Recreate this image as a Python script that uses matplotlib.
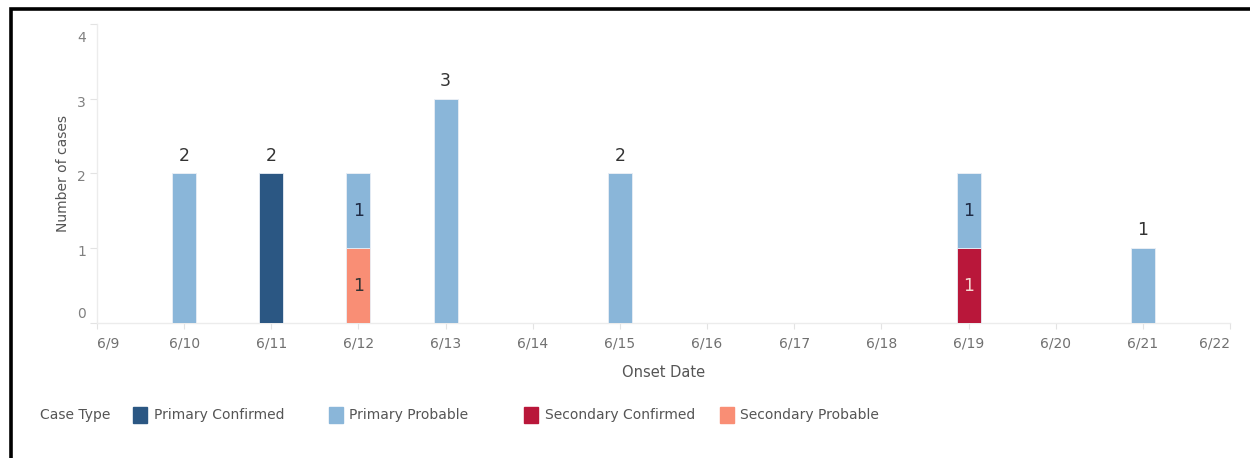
import matplotlib
matplotlib.use("Agg")
import matplotlib.pyplot as plt
from matplotlib.patches import Rectangle
from matplotlib.transforms import ScaledTranslation
import numpy as np

# axis dates shown on the x axis
date_ticks = ["6/9", "6/10", "6/11", "6/12", "6/13", "6/14", "6/15",
              "6/16", "6/17", "6/18", "6/19", "6/20", "6/21", "6/22"]

# cases per onset date, one list per case type (stack order bottom -> top)
onset_dates = ["6/10", "6/11", "6/12", "6/13", "6/15", "6/19", "6/21"]
secondary_confirmed = [0, 0, 0, 0, 0, 1, 0]
secondary_probable = [0, 0, 1, 0, 0, 0, 0]
primary_probable = [2, 0, 1, 3, 2, 1, 1]
primary_confirmed = [0, 2, 0, 0, 0, 0, 0]

legend_order = ["Primary Confirmed", "Primary Probable",
                "Secondary Confirmed", "Secondary Probable"]
colors = {"Primary Confirmed": "#2b5783",
          "Primary Probable": "#8ab6d9",
          "Secondary Confirmed": "#b9173a",
          "Secondary Probable": "#f98e75"}
label_colors = {"Primary Confirmed": "#333333",
                "Primary Probable": "#1e2a44",
                "Secondary Confirmed": "#f6d9d2",
                "Secondary Probable": "#333333"}

series = [("Secondary Confirmed", secondary_confirmed),
          ("Secondary Probable", secondary_probable),
          ("Primary Probable", primary_probable),
          ("Primary Confirmed", primary_confirmed)]

plt.rcParams["font.family"] = ["DejaVu Sans"]

fig = plt.figure(figsize=(12.5, 4.58), dpi=100, facecolor="white")
ax = fig.add_axes([0.0776, 0.2948, 0.9064, 0.6528])

x = np.array([date_ticks.index(d) for d in onset_dates], dtype=float)
bottom = np.zeros(len(x))
totals = np.sum([s[1] for s in series], axis=0)
nseg = np.sum([np.array(s[1]) > 0 for s in series], axis=0)

for name, vals in series:
    vals = np.array(vals, dtype=float)
    ax.bar(x, vals, width=0.275, bottom=bottom, color=colors[name],
           edgecolor="#e8eef5", linewidth=0.6, zorder=3)
    for xi, b, v, n in zip(x, bottom, vals, nseg):
        if v > 0 and n > 1:
            ax.text(xi, b + v / 2, "%d" % v, ha="center", va="center",
                    fontsize=12.5, color=label_colors[name], zorder=4)
    bottom += vals

for xi, t, n in zip(x, totals, nseg):
    if n == 1:
        ax.text(xi, t + 0.12, "%d" % t, ha="center", va="bottom",
                fontsize=12.5, color="#333333", zorder=4)

ax.set_xlim(0, len(date_ticks) - 1)
ax.set_ylim(0, 4)
ax.set_xticks(range(len(date_ticks)))
ax.set_xticklabels(date_ticks)
ax.set_yticks([0, 1, 2, 3, 4])

for sp in ["top", "right"]:
    ax.spines[sp].set_visible(False)
for sp in ["left", "bottom"]:
    ax.spines[sp].set_color("#ececec")
    ax.spines[sp].set_linewidth(1)

ax.tick_params(axis="x", length=4, color="#e3e3e3", pad=6,
               labelsize=10, labelcolor="#707070")
ax.tick_params(axis="y", length=5, color="#e3e3e3", pad=3,
               labelsize=10, labelcolor="#808080")
xl = ax.get_xticklabels()
xl[0].set_ha("left")
xl[-1].set_ha("right")
# tableau nudges the y labels: edge labels pulled inside, others a bit low
y_shift_px = [10, -2, -2, -3, -13]
for lab, dy in zip(ax.get_yticklabels(), y_shift_px):
    lab.set_transform(lab.get_transform() +
                      ScaledTranslation(0, dy / 100, fig.dpi_scale_trans))

ax.set_xlabel("Onset Date", fontsize=10.5, color="#555555", labelpad=10)
ax.set_ylabel("Number of cases", fontsize=10, color="#555555", labelpad=5)

# legend, laid out in fixed-width columns
fig.text(40 / 1250, 1 - 415 / 458, "Case Type", fontsize=10,
         color="#555555", ha="left", va="center")
for i, name in enumerate(legend_order):
    px = (133 + i * 195.5) / 1250
    fig.add_artist(Rectangle((px, 1 - 423 / 458), 14 / 1250, 16 / 458,
                             transform=fig.transFigure, color=colors[name]))
    fig.text(px + 21 / 1250, 1 - 415 / 458, name, fontsize=10,
             color="#555555", ha="left", va="center")

# black frame of the surrounding page
fig.add_artist(Rectangle((10.5 / 1250, -0.1), 1.2, 1 - 9.5 / 458 + 0.1,
                         transform=fig.transFigure, fill=False,
                         edgecolor="black", linewidth=2.6))

fig.savefig("out.png", dpi=100, facecolor="white")
